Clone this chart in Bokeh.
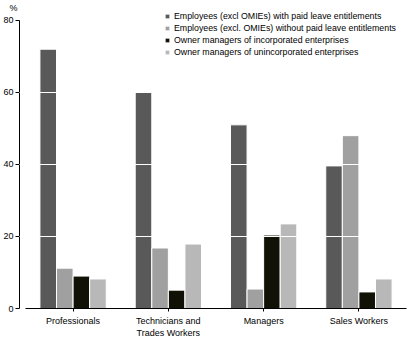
from bokeh.plotting import figure
from bokeh.models import (ColumnDataSource, FactorRange, Range1d, FixedTicker, Legend,
                          LegendItem, Title)
from bokeh.transform import dodge
from bokeh.embed import file_html
from bokeh.resources import INLINE

categories = ["Professionals", "Technicians and\nTrades Workers", "Managers", "Sales Workers"]
series_names = [
    "Employees (excl OMIEs) with paid leave entitlements",
    "Employees (excl. OMIEs) without paid leave entitlements",
    "Owner managers of incorporated enterprises",
    "Owner managers of unincorporated enterprises",
]
with_leave = [72.0, 60.0, 51.0, 39.6]
without_leave = [11.2, 16.8, 5.4, 48.0]
owner_inc = [9.0, 5.1, 20.4, 4.6]
owner_uninc = [8.2, 17.9, 23.5, 8.2]
colors = ["#595959", "#a0a0a0", "#111106", "#b8b8b8"]
y_ticks = [0, 20, 40, 60, 80]

FONT = "Liberation Sans"

src = ColumnDataSource(dict(cat=categories, s0=with_leave, s1=without_leave,
                            s2=owner_inc, s3=owner_uninc))

p = figure(frame_width=393, frame_height=296, output_backend="svg", toolbar_location=None,
           x_range=FactorRange(factors=categories, range_padding=0.0625,
                               range_padding_units="absolute"),
           y_range=Range1d(0, 82.2),
           min_border_left=15, min_border_right=0, min_border_top=0, min_border_bottom=0)
p.outline_line_color = None
p.add_layout(Title(text="%", align="left", offset=-10, standoff=0,
                   text_font=FONT, text_font_size="9px", text_font_style="normal",
                   text_color="black"), "above")

bw = 0.174
offsets = [-1.5 * bw, -0.5 * bw, 0.5 * bw, 1.5 * bw]
renderers = []
for i, key in enumerate(["s0", "s1", "s2", "s3"]):
    r = p.vbar(x=dodge("cat", offsets[i], range=p.x_range), top=key, width=bw, source=src,
               fill_color=colors[i], line_color="white", line_width=1)
    renderers.append(r)

legend = Legend(items=[LegendItem(label=series_names[i], renderers=[renderers[i]])
                       for i in range(4)],
                location=(145, 251), orientation="vertical",
                label_text_font=FONT, label_text_font_size="8.8px", label_text_color="black",
                label_height=9, glyph_height=6, glyph_width=6, spacing=2,
                label_standoff=4, padding=0, margin=0,
                border_line_color=None, background_fill_alpha=0)
p.add_layout(legend, "center")

# axes
p.yaxis.ticker = FixedTicker(ticks=y_ticks)
p.yaxis.bounds = (0, 80)
p.yaxis.major_tick_out = 4
p.yaxis.major_tick_in = 0
p.yaxis.minor_tick_line_color = None
p.yaxis.major_label_standoff = 2
p.yaxis.major_label_text_font = FONT
p.yaxis.major_label_text_font_size = "9px"
p.yaxis.major_label_text_color = "black"
p.yaxis.axis_line_color = "black"
p.yaxis.major_tick_line_color = "black"

p.xaxis.bounds = (0, 4)
p.xaxis.major_tick_out = 3
p.xaxis.major_tick_in = 0
p.xaxis.major_label_standoff = 4
p.xaxis.major_label_text_font = FONT
p.xaxis.major_label_text_font_size = "9px"
p.xaxis.major_label_text_color = "black"
p.xaxis.axis_line_color = "black"
p.xaxis.major_tick_line_color = "black"

p.xgrid.grid_line_color = None
p.ygrid.ticker = FixedTicker(ticks=[20, 40, 60])
p.ygrid.grid_line_color = "white"
p.ygrid.level = "overlay"

open("out.html", "w").write(file_html(p, INLINE))
